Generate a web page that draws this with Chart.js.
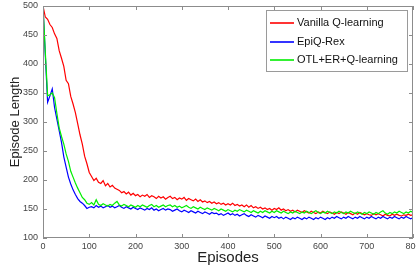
<!DOCTYPE html>
<html>
<head>
<meta charset="utf-8">
<script src="https://cdn.jsdelivr.net/npm/chart.js@4/dist/chart.umd.min.js"></script>
<style>
  html, body { margin: 0; padding: 0; background: #fff; }
  #wrap { width: 416px; height: 273px; }
</style>
</head>
<body>
<div id="wrap"><canvas id="chart"></canvas></div>
<script>
// episodes sampled every 5 steps, 0..800
const episodes = [];
for (let e = 0; e <= 800; e += 5) episodes.push(e);

const seriesLabels = ['Vanilla Q-learning', 'EpiQ-Rex', 'OTL+ER+Q-learning'];

const vanillaQ = [
  500, 481, 477, 468, 463, 452, 444, 423, 410, 396,
  372, 366, 344, 331, 316, 297, 278, 262, 241, 228,
  213, 206, 199, 203, 196, 194, 199, 190, 194, 188,
  191, 186, 184, 182, 178, 180, 176, 179, 174, 177,
  173, 175, 171, 174, 172, 175, 170, 173, 171, 168,
  172, 169, 171, 167, 170, 172, 168, 170, 166, 169,
  167, 170, 165, 168, 166, 164, 167, 163, 166, 162,
  164, 161, 163, 160, 162, 159, 161, 158, 160, 157,
  159, 157, 160, 156, 158, 155, 157, 154, 157, 153,
  156, 152, 154, 151, 153, 150, 152, 149, 151, 148,
  151, 149, 152, 148, 150, 147, 149, 146, 148, 145,
  148, 146, 144, 147, 145, 143, 146, 144, 142, 145,
  143, 146, 144, 142, 145, 143, 141, 144, 142, 145,
  143, 141, 144, 142, 140, 143, 141, 144, 142, 140,
  142, 140, 139, 142, 140, 142, 140, 138, 141, 139,
  138, 141, 139, 141, 139, 138, 140, 139, 141, 139,
  140
];

const epiqRex = [
  500, 415, 334, 345, 357, 325, 305, 285, 265, 240,
  222, 205, 193, 183, 175, 168, 163, 160, 156, 151,
  153, 154, 152, 156, 153, 155, 152, 154, 156, 153,
  155, 152, 154, 156, 153, 151, 154, 152, 150, 153,
  151, 149, 152, 150, 148, 151, 149, 152, 148, 150,
  147, 149, 151, 148, 150, 149, 146, 148, 150, 147,
  145, 148, 146, 144, 147, 145, 143, 146, 144, 142,
  145, 143, 141, 144, 142, 143, 140, 142, 139, 141,
  143, 140, 142, 139, 141, 138, 140, 142, 139, 137,
  140, 138, 136, 139, 137, 135, 138, 136, 134, 137,
  135, 137, 134, 136, 133, 136, 134, 132, 135, 133,
  136, 134, 132, 135, 133, 136, 134, 132, 135, 133,
  136, 134, 132, 135, 133, 136, 134, 137, 135, 133,
  136, 134, 137, 135, 133, 136, 134, 137, 135, 133,
  136, 134, 137, 135, 133, 136, 134, 137, 135, 133,
  136, 134, 137, 135, 133, 136, 134, 137, 135, 133,
  135
];

const otlErQ = [
  500, 420, 345, 347, 350, 342, 315, 290, 275, 262,
  245, 232, 215, 205, 195, 186, 178, 170, 166, 160,
  158, 161, 157, 166, 158, 156, 159, 157, 155, 158,
  156, 160, 163, 157, 155, 158, 156, 154, 157, 155,
  153, 156, 154, 157, 155, 153, 156, 158, 154, 156,
  153, 155, 157, 154, 156, 157, 154, 156, 153, 155,
  152, 154, 156, 153, 151, 154, 152, 150, 153, 151,
  149, 152, 150, 148, 151, 149, 147, 150, 148, 146,
  149, 147, 145, 148, 146, 149, 147, 145, 148, 146,
  144, 147, 145, 143, 146, 144, 147, 145, 143, 146,
  144, 147, 145, 143, 146, 144, 142, 145, 143, 146,
  144, 142, 145, 143, 146, 144, 142, 145, 147, 144,
  142, 145, 143, 146, 144, 142, 145, 143, 146, 144,
  142, 145, 143, 146, 144, 142, 145, 143, 141, 144,
  142, 145, 143, 141, 144, 142, 145, 147, 143, 141,
  144, 142, 145, 143, 146, 144, 142, 145, 143, 146,
  144
];

const xTicks = [0, 100, 200, 300, 400, 500, 600, 700, 800];
const yTicks = [100, 150, 200, 250, 300, 350, 400, 450, 500];

function toPoints(values) {
    return values.map(function(v, i) { return { x: episodes[i], y: v }; });
}

// MATLAB-ish box with inward ticks on all four sides
const boxPlugin = {
    id: 'box',
    afterDatasetsDraw(chart) {
        const ctx = chart.ctx;
        const a = chart.chartArea;
        const xs = chart.scales.x;
        const ys = chart.scales.y;
        ctx.save();
        ctx.strokeStyle = '#8c8c8c';
        ctx.lineWidth = 1;
        ctx.strokeRect(a.left + 0.5, a.top + 0.5, a.right - a.left - 1, a.bottom - a.top - 1);
        ctx.beginPath();
        xTicks.forEach(function(t) {
            const px = Math.round(xs.getPixelForValue(t)) + 0.5;
            ctx.moveTo(px, a.bottom); ctx.lineTo(px, a.bottom - 4);
            ctx.moveTo(px, a.top); ctx.lineTo(px, a.top + 4);
        });
        yTicks.forEach(function(t) {
            const py = Math.round(ys.getPixelForValue(t)) + 0.5;
            ctx.moveTo(a.left, py); ctx.lineTo(a.left + 4, py);
            ctx.moveTo(a.right, py); ctx.lineTo(a.right - 4, py);
        });
        ctx.stroke();
        ctx.restore();
    }
};

// boxed legend in the upper right corner
const legendPlugin = {
    id: 'boxLegend',
    afterDraw(chart) {
        const ctx = chart.ctx;
        const a = chart.chartArea;
        const x0 = Math.round(a.right - 147), y0 = Math.round(a.top + 4), w = 141, h = 61;
        ctx.save();
        ctx.fillStyle = '#fff';
        ctx.fillRect(x0, y0, w, h);
        ctx.strokeStyle = '#9a9a9a';
        ctx.lineWidth = 1;
        ctx.strokeRect(x0 + 0.5, y0 + 0.5, w, h);
        ctx.font = '11px "Liberation Sans", Arial, sans-serif';
        ctx.textBaseline = 'middle';
        chart.data.datasets.forEach(function(ds, i) {
            const y = Math.round(y0 + 13 + i * 18.5);
            ctx.strokeStyle = ds.borderColor;
            ctx.lineWidth = 1.6;
            ctx.beginPath();
            ctx.moveTo(x0 + 4, y); ctx.lineTo(x0 + 28, y);
            ctx.stroke();
            ctx.fillStyle = '#111';
            ctx.fillText(ds.label, x0 + 31, y);
        });
        ctx.restore();
    }
};

new Chart(document.getElementById('chart'), {
    type: 'line',
    data: {
        datasets: [{
            label: seriesLabels[0],
            data: toPoints(vanillaQ),
            borderColor: '#ff0000',
            borderWidth: 1.2,
            pointRadius: 0,
            fill: false,
            order: 2
        }, {
            label: seriesLabels[1],
            data: toPoints(epiqRex),
            borderColor: '#0000ff',
            borderWidth: 1.2,
            pointRadius: 0,
            fill: false,
            order: 1
        }, {
            label: seriesLabels[2],
            data: toPoints(otlErQ),
            borderColor: '#00ee00',
            borderWidth: 1.2,
            pointRadius: 0,
            fill: false,
            order: 0
        }]
    },
    options: {
        responsive: true,
        maintainAspectRatio: false,
        animation: false,
        layout: { padding: { top: 6, right: 3, left: 0, bottom: 0 } },
        plugins: {
            legend: { display: false },
            tooltip: { enabled: false }
        },
        scales: {
            x: {
                type: 'linear',
                min: 0,
                max: 800,
                afterBuildTicks: function(scale) { scale.ticks = xTicks.map(function(v) { return { value: v }; }); },
                afterFit: function(scale) {
                    scale.height = 35;
                    scale.paddingLeft = 0;
                    scale.paddingRight = 0;
                },
                grid: { display: false, drawTicks: false },
                border: { display: false },
                ticks: {
                    padding: 3,
                    maxRotation: 0,
                    color: '#444',
                    font: { family: '"Liberation Sans", Arial, sans-serif', size: 9 }
                },
                title: {
                    display: true,
                    text: 'Episodes',
                    color: '#222',
                    padding: { top: 0, bottom: 6 },
                    font: { family: '"Liberation Sans", Arial, sans-serif', size: 15 }
                }
            },
            y: {
                min: 100,
                max: 500,
                afterBuildTicks: function(scale) { scale.ticks = yTicks.map(function(v) { return { value: v }; }); },
                afterFit: function(scale) {
                    scale.width = 43;
                    scale.paddingTop = 0;
                    scale.paddingBottom = 0;
                },
                grid: { display: false, drawTicks: false },
                border: { display: false },
                ticks: {
                    padding: 5,
                    color: '#444',
                    font: { family: '"Liberation Sans", Arial, sans-serif', size: 9 }
                },
                title: {
                    display: true,
                    text: 'Episode Length',
                    color: '#222',
                    padding: { top: 8, bottom: 0 },
                    font: { family: '"Liberation Sans", Arial, sans-serif', size: 13 }
                }
            }
        }
    },
    plugins: [boxPlugin, legendPlugin]
});
</script>
</body>
</html>
